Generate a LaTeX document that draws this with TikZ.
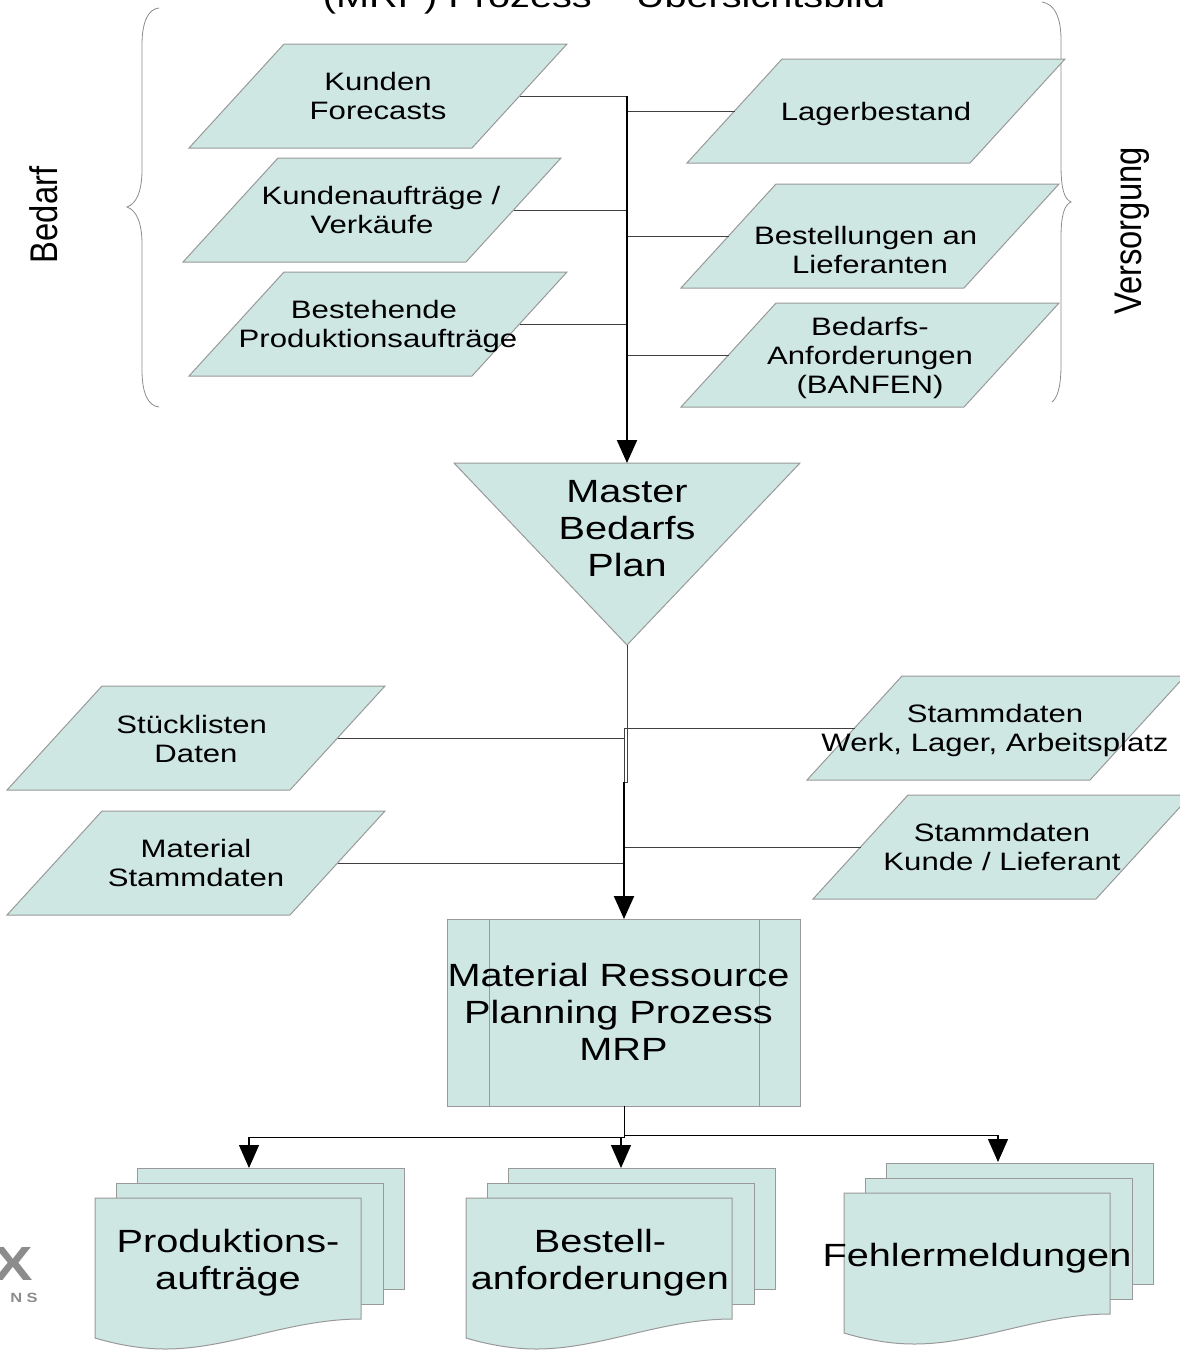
\documentclass[tikz,border=0pt]{standalone}
\usepackage{fontspec}
\setmainfont[FakeStretch=1.235]{Liberation Sans}
\newfontfamily\rotfont[FakeStretch=0.85]{Liberation Sans}
\usetikzlibrary{arrows.meta}
\definecolor{shapefill}{HTML}{CFE7E3}
\definecolor{shapeedge}{HTML}{999999}
\tikzset{
  shapebox/.style={fill=shapefill,draw=shapeedge,line width=0.75pt,line join=miter},
  smalltext/.style={inner sep=0pt,align=center,text=black,font=\fontsize{18.9}{21.75}\selectfont},
  bigtext/.style={inner sep=0pt,align=center,text=black,font=\fontsize{24.1}{27.75}\selectfont},
  sidetext/.style={inner sep=0pt,rotate=90,text=black,font=\rotfont\fontsize{28.9}{32}\selectfont},
  thinline/.style={draw=black!75,line width=0.75pt},
  bottomline/.style={draw=black,line width=0.65pt},
  arrowline/.style={draw=black,line width=0.9pt,-{Triangle[length=17.25pt,width=15pt]}},
  trunkarrow/.style={draw=black,line width=1.6pt,-{Triangle[length=17.25pt,width=15pt]}},
  bracestyle/.style={draw=black!45,line width=0.6pt},
}
% name, x of bottom-left, y of top, text x, text y, text
\newcommand{\paraShape}[6]{%
  \path[shapebox] ({#2},{#3+104}) -- ({#2+95},{#3}) -- ({#2+378},{#3}) -- ({#2+283},{#3+104}) -- cycle;
  \coordinate (#1-e) at ({#2+330.5},{#3+52});
  \coordinate (#1-w) at ({#2+47.5},{#3+52});
  \node[smalltext] (#1) at (#4,#5) {#6};
}
% name, x of front sheet, y of front sheet, text x, text y, text
\newcommand{\docStack}[6]{%
  \path[shapebox] ({#2+42},{#3-30}) rectangle ({#2+309},{#3+91});
  \path[shapebox] ({#2+21},{#3-15}) rectangle ({#2+288},{#3+106});
  \path[shapebox] ({#2},{#3}) -- ({#2+266},{#3}) -- ({#2+266},{#3+121})
     .. controls ({#2+195},{#3+121}) and ({#2+135},{#3+151}) .. ({#2+70},{#3+151})
     .. controls ({#2+45},{#3+151}) and ({#2+20},{#3+146}) .. ({#2},{#3+140}) -- cycle;
  \coordinate (#1-n) at ({#2+154},{#3-30});
  \node[bigtext] (#1) at (#4,#5) {#6};
}
\begin{document}
\begin{tikzpicture}[x=0.75pt,y=-0.75pt]
\useasboundingbox (0,0) rectangle (1180,1350);
\clip (0,0) rectangle (1180,1350);

% title
\node[bigtext,anchor=base] (title) at (604,7.5) {(MRP) Prozess – Übersichtsbild};

% braces
\draw[bracestyle] (159,8) .. controls (148,9) and (142,22) .. (142,45) -- (142,170)
  .. controls (142,192) and (136,204) .. (127,207)
  .. controls (136,210) and (142,222) .. (142,244) -- (142,370)
  .. controls (142,393) and (148,406) .. (159,407);
\draw[bracestyle] (1042,2) .. controls (1055,4) and (1061,18) .. (1061,40) -- (1061,165)
  .. controls (1061,188) and (1064,199) .. (1071,202)
  .. controls (1064,205) and (1061,216) .. (1061,238) -- (1061,365)
  .. controls (1061,388) and (1057,398) .. (1052,402);
\node[sidetext] (bedarf) at (44,215) {Bedarf};
\node[sidetext] (versorgung) at (1132,231) {Versorgung};

% top inputs
\paraShape{kf}{189}{44}{378}{96}{Kunden\\Forecasts}
\paraShape{kv}{183}{158}{372}{210}{\hspace*{13.5pt}Kundenaufträge /\\Verkäufe}
\paraShape{bp}{189}{272}{378}{326}{Bestehende\hspace*{6pt}\\Produktionsaufträge}
\paraShape{lb}{687}{59}{876}{114}{Lagerbestand}
\paraShape{bl}{681}{184}{870}{250}{Bestellungen an\hspace*{6.5pt}\\Lieferanten}
\paraShape{ba}{681}{303}{870}{358}{Bedarfs-\\Anforderungen\\(BANFEN)}

% master triangle
\path[shapebox] (454,463) -- (800,463) -- (627,645) -- cycle;
\coordinate (tri-n) at (627,463);
\coordinate (tri-s) at (627,645);
\node[bigtext] (master) at (627,529) {Master\\Bedarfs\\Plan};

% trunk 1
\coordinate (t1) at (627,96);
\coordinate (t1a) at (627,111);
\coordinate (t1b) at (627,210);
\coordinate (t1c) at (627,236);
\coordinate (t1d) at (627,324);
\coordinate (t1e) at (627,355);
\draw[thinline] (kf-e) -- (t1);
\draw[thinline] (lb-w) -- (t1a);
\draw[thinline] (kv-e) -- (t1b);
\draw[thinline] (bl-w) -- (t1c);
\draw[thinline] (bp-e) -- (t1d);
\draw[thinline] (ba-w) -- (t1e);
\draw[trunkarrow] (t1) -- (tri-n);

% middle inputs
\paraShape{sl}{7}{686}{196}{739}{Stücklisten\hspace*{6.5pt}\\Daten}
\paraShape{ms}{7}{811}{196}{863}{Material\\Stammdaten}
\paraShape{sw}{807}{676}{995}{730.5}{Stammdaten\\Werk, Lager, Arbeitsplatz}
\paraShape{sk}{813}{795}{1002}{847}{Stammdaten\\Kunde / Lieferant}

% process box
\path[shapebox] (447,919) rectangle (800.5,1106);
\draw[shapeedge,line width=0.75pt] (489,919) -- (489,1106) (759,919) -- (759,1106);
\coordinate (mrp-n) at (624,919);
\coordinate (mrp-s) at (624,1106);
\node[bigtext] (mrp) at (618.5,1012) {Material Ressource\\Planning Prozess\\\hspace*{7.5pt}MRP};

% trunk 2
\coordinate (t2a) at (627,782);
\coordinate (t2b) at (624,782);
\coordinate (t2c) at (624,728);
\coordinate (t2d) at (624,738);
\coordinate (t2e) at (624,847);
\coordinate (t2f) at (624,863);
\draw[thinline] (tri-s) -- (t2a) -- (t2b);
\draw[thinline] (t2b) -- (t2c) -- (sw-w);
\draw[thinline] (sl-e) -- (t2d);
\draw[thinline] (ms-e) -- (t2f);
\draw[thinline] (sk-w) -- (t2e);
\draw[trunkarrow] (t2b) -- (mrp-n);

% outputs
\docStack{pa}{95}{1198}{228}{1263}{Produktions-\\aufträge}
\docStack{ban}{466}{1198}{600}{1263}{Bestell-\\anforderungen}
\docStack{fm}{844}{1193}{977}{1258}{Fehlermeldungen}

\coordinate (j1) at (624,1135);
\coordinate (j2) at (998,1135);
\coordinate (j3) at (621,1137);
\coordinate (j4) at (249,1137);
\coordinate (fm-t) at (998,1162);
\coordinate (ban-t) at (621,1168);
\coordinate (pa-t) at (249,1168);
\draw[bottomline] (mrp-s) -- (j1) -- (j2);
\draw[bottomline] (j1) -- (624,1137) -- (j3) -- (j4);
\draw[arrowline] (j2) -- (fm-t);
\draw[arrowline] (j3) -- (ban-t);
\draw[arrowline] (j4) -- (pa-t);

% logo fragment
\node[inner sep=0pt,text=black!45,font=\bfseries\fontsize{36}{36}\selectfont] (logox) at (13,1264) {X};
\node[inner sep=0pt,text=black!45,font=\bfseries\fontsize{10}{10}\selectfont] (logos) at (24,1298) {N S};
\end{tikzpicture}
\end{document}
